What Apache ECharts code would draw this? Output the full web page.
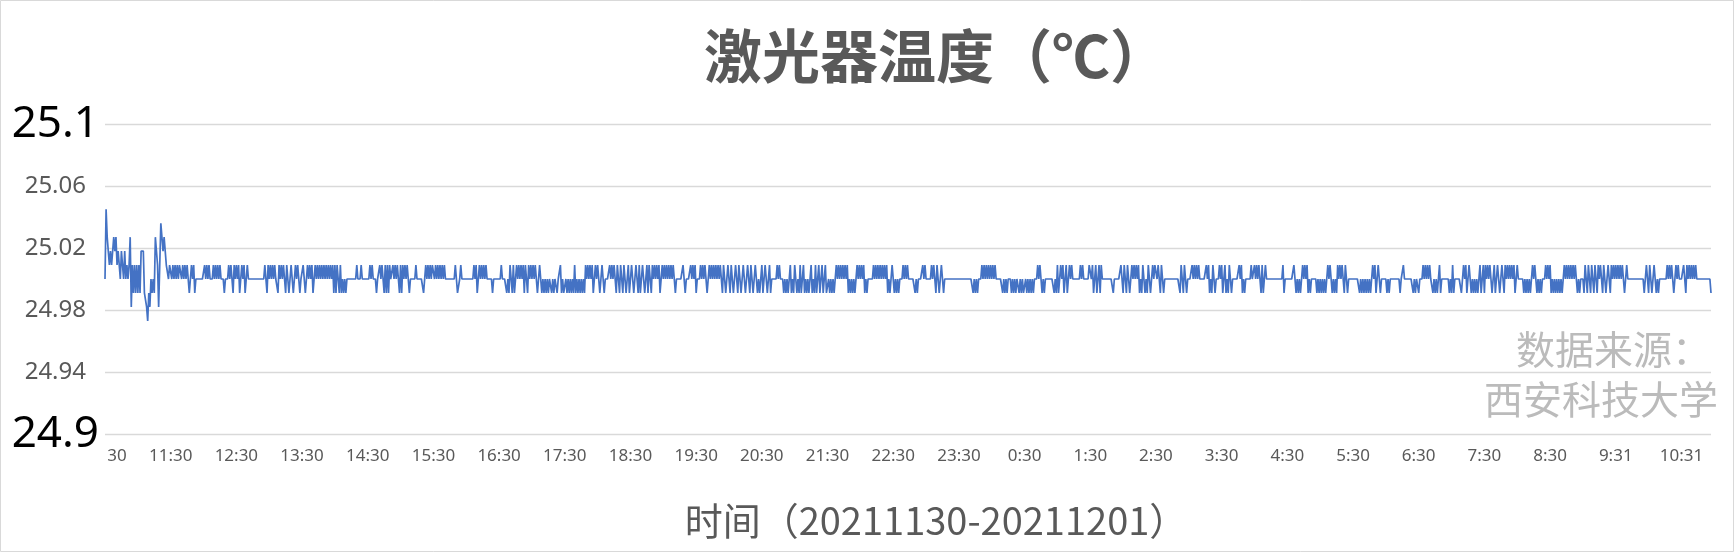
<!DOCTYPE html>
<html>
<head>
<meta charset="utf-8">
<title>激光器温度</title>
<script src="https://cdn.jsdelivr.net/npm/echarts@6/dist/echarts.min.js"></script>
<style>
  html, body { margin: 0; padding: 0; background: #fff; }
  #main { width: 1735px; height: 553px; }
</style>
</head>
<body>
<div id="main"></div>
<script>
// 读数编码：每个字符是一个采样点（约每分钟一个），对照下面的 levels 取值
var levels = {
  'x': 24.973, 'y': 24.982, 'z': 24.991, '0': 25.000,
  'a': 25.009, 'b': 25.018, 'c': 25.027, 'd': 25.036, 'e': 25.045
}

// 每行约一小时（60 点），最后一行是 10:31 之后的尾巴
var readings = [
  '0ecbababcb' + 'cabb0ba0b0' + 'a0acyazaza' + 'zazbbbzzyx' + 'zy0z0zcbay' + 'ydcbcbaa0a',
  'a0a0a0a0aa' + '0a0a0a0z0a' + '0az0000000' + '0a0a0a000a' + '0a0a0a000z' + '000a0a0za0',
  'a0az0a0az0' + 'a000000000' + '000000a0za' + '0a0a0a00za' + '0a0a0za0z0' + 'a0z0a0a0z0',
  '0a0z0a0a0a' + 'z0a0a0a0a0' + 'a0a0a0a0az' + 'aza0zaz0z0' + 'z000000000' + 'a000a00000',
  '00a0a000z0' + '0a0a0zazaz' + 'a00a0a0a0z' + 'aza0a0a0z0' + '0000a00000' + '0z0a0a0a0a',
  'a0a0a0a0a0' + 'a000000000' + 'a0zz0a0000' + '0000000a0a' + 'z0a0a0a0a0' + '0000z00000',
  '00a0000z0z' + 'a0zaz0a0a0' + 'a0aza0za0a' + '0a0a0z0a0z' + '0z0z0z00z0' + 'z00z00az0z',
  'z0z0z0z0za' + 'z0z0z0z0za' + '0a0a0az0a0' + 'a0z0a0z000' + '0a0a0a0za0' + 'za0za0z0az',
  'za0z0a0zaz' + '0a0z0aza0z' + 'a0a0a0az0a' + '0a0a0a0a0a' + '0z000000a0' + 'z0000a0a0a',
  'z000a0a0a0' + 'z0a0a0a0a0' + 'a0a0za0z0a' + '0za0z0a0za' + '0z0a0z0a0z' + 'a0z0a0z0z0',
  'az0a0z0az0' + '0000a0a000' + 'z0z0z0az0z' + 'a0z0zaz0az' + '0z0z0az0za' + 'z0az0az0az',
  'z0z0z0z0a0' + 'a0a0a0a0az' + '0z0z0z0a0a' + '0a0az0z000' + '00a0a0a0a0' + 'a0a0az0z0a',
  'az0z0z000a' + '0a0a000000' + 'z0z0000a0a' + '00000a0a0z' + 'a0z0a0z000' + '0000000000',
  '0000000000' + '000z0z0z00' + '0a0a0a0a0a' + '0a0a000000' + 'z0z0z000z0' + 'z0z00z0z0z',
  'z0z0z0z0z0' + '00a0a0z0z0' + '0000000z0z' + 'az0a0az0az' + '0a0a000000' + '0a0a00000a',
  'a0az0az0az' + 'a000000000' + '0z000000a0' + 'za0za0z0a0' + 'a0a0az0za0' + 'z0za0z0a0a',
  'a0a0za0z00' + '0000000000' + '00za0za0z0' + '000a0a0a0a' + '000000a0az' + '0za0z000a0',
  'az0az0za0z' + '000000a0az' + '0z00000a00' + 'a0a0a0zaz0' + 'a000000000' + '000000az00',
  '000000a0z0' + 'z0z0a0a0az' + '0z00000z0z' + '0z0z0z0a0a' + '0z0z0za0a0' + 'a0za0z0000',
  '000000z0z0' + 'z0z0z0z0a0' + 'az0a0z0000' + '0z0z000000' + '000z00a000' + '00000z0z00',
  'z000a0a0a0' + 'a00z0z0z0a' + 'z0000000z0' + 'zaz000000z' + '0a0az0a0z0' + 'z0z0z0az0a',
  'za0a0a0z0a' + 'z0a0z0a0za' + '0a0a0a0az0' + 'a00000z0z0' + 'z0z0a0a0z0' + 'z0z000a0a0',
  'az0z0z0z0z' + '0z0a0a0a0a' + '0a0a0z0z00' + '0za0za0za0' + 'za0za0a0za' + '0z0a0za0a0',
  'a0a0a0a0z0' + 'a000000000' + '000000z0a0' + 'za0z0a0z0z' + '0000000a0a' + '0a0z0a0a00',
  '00a0za0a0a0a0a' + '0000000000000' + 'z'
]

// 横轴刻度文字，每 60 个点一个
var tickLabels = [
  '10:30', '11:30', '12:30', '13:30', '14:30', '15:30', '16:30', '17:30', '18:30',
  '19:30', '20:30', '21:30', '22:30', '23:30', '0:30', '1:30', '2:30', '3:30',
  '4:30', '5:30', '6:30', '7:30', '8:30', '9:31', '10:31'
]

var yMin = 24.9
var yMax = 25.1
var yStep = 0.04

var temps = []
readings.forEach(function (row) {
  for (var i = 0; i < row.length; i++) {
    temps.push(levels[row[i]])
  }
})
var pointIdx = temps.map(function (v, i) { return String(i) })

var chart = echarts.init(document.getElementById('main'), null, {renderer: 'canvas'})
var fontLatin = '"Noto Sans", "Noto Sans CJK SC", sans-serif'
var fontCJK = '"Noto Sans CJK SC", "Noto Sans", sans-serif'

chart.setOption({
  backgroundColor: '#ffffff',
  animation: false,
  grid: {
    left: 105,
    right: 24,
    top: 124,
    bottom: 119
  },
  xAxis: {
    type: 'category',
    boundaryGap: false,
    data: pointIdx,
    axisLine: {show: false},
    axisTick: {show: false},
    splitLine: {show: false},
    axisLabel: {
      interval: 59,
      margin: 14,
      fontSize: 17,
      color: '#595959',
      fontFamily: fontLatin,
      formatter: function (val, idx) {
        var k = Math.round(idx / 60)
        var s = tickLabels[k] || ''
        // 第一个刻度在原图里被左边裁掉了一半，只露出分钟
        if (k === 0) {
          var p = s.indexOf(':') + 1
          return '{cut|' + s.slice(0, p) + '}' + s.slice(p)
        }
        return s
      },
      rich: {
        cut: {fontSize: 17, color: 'rgba(255,255,255,0)', fontFamily: fontLatin}
      }
    }
  },
  yAxis: {
    type: 'value',
    min: yMin,
    max: yMax,
    interval: yStep,
    axisLine: {show: false},
    axisTick: {show: false},
    splitLine: {lineStyle: {color: '#d9d9d9', width: 1.3}},
    axisLabel: {
      margin: 6,
      formatter: function (v) {
        var t = parseFloat(v.toFixed(2))
        if (Math.abs(t - yMin) < 1e-6 || Math.abs(t - yMax) < 1e-6) {
          return '{big|' + t + '}'
        }
        return '{small|' + t + '}'
      },
      rich: {
        big: {fontSize: 44, color: '#000000', fontFamily: fontLatin},
        small: {fontSize: 24, color: '#595959', fontFamily: fontLatin, padding: [0, 13, 0, 0]}
      }
    }
  },
  series: [{
    name: '激光器温度',
    type: 'line',
    data: temps,
    showSymbol: false,
    symbol: 'none',
    sampling: 'none',
    lineStyle: {color: '#4472C4', width: 1.7},
    itemStyle: {color: '#4472C4'}
  }],
  graphic: [
    {
      type: 'rect',
      silent: true,
      shape: {x: 0.5, y: 0.5, width: 1733, height: 551},
      style: {fill: 'none', stroke: '#d9d9d9', lineWidth: 1}
    },
    {
      type: 'text',
      x: 936,
      y: 56,
      style: {
        text: '激光器温度（℃）',
        fontSize: 58,
        fontWeight: 'bold',
        fontFamily: fontCJK,
        fill: '#595959',
        align: 'center',
        verticalAlign: 'middle'
      }
    },
    {
      type: 'text',
      x: 936,
      y: 521,
      style: {
        text: '时间（20211130-20211201）',
        fontSize: 38,
        fontFamily: fontCJK,
        fill: '#595959',
        align: 'center',
        verticalAlign: 'middle'
      }
    },
    {
      type: 'text',
      x: 1516,
      y: 349,
      style: {
        text: '数据来源：',
        fontSize: 39,
        fontFamily: fontCJK,
        fill: '#bbbbbb',
        align: 'left',
        verticalAlign: 'middle'
      }
    },
    {
      type: 'text',
      x: 1718,
      y: 399,
      style: {
        text: '西安科技大学',
        fontSize: 39,
        fontFamily: fontCJK,
        fill: '#bbbbbb',
        align: 'right',
        verticalAlign: 'middle'
      }
    }
  ]
})
</script>
</body>
</html>
